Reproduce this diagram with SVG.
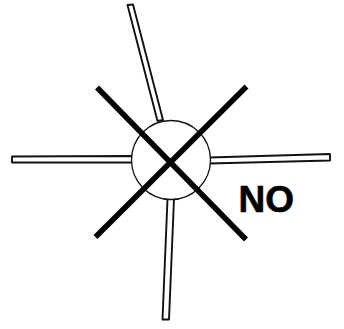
<svg xmlns="http://www.w3.org/2000/svg" width="344" height="329" viewBox="0 0 344 329">
<style>
.spoke{fill:#fff;stroke:#111;stroke-width:1.9;stroke-linejoin:round}
.cross{fill:none;stroke:#000;stroke-width:5.5}
.hub{fill:#fff;stroke:#111;stroke-width:1.3}
text{font-family:"Liberation Sans",Arial,sans-serif;font-weight:bold;font-size:37px;fill:#000;stroke:#000;stroke-width:.6}
</style>
<rect width="344" height="329" fill="#fff"/>
<g id="spokes">
<polygon id="spoke-top" class="spoke" points="127.500,5 133,4.500 163,120 157.500,121"/>
<polygon id="spoke-left" class="spoke" points="12,156.500 132,156 132,162.500 12,162.500"/>
<polygon id="spoke-right" class="spoke" points="209,157.500 330,154 330,160.500 209,163.500"/>
<polygon id="spoke-bottom" class="spoke" points="167.500,199 174,199 169,319.500 162.500,319.500"/>
</g>
<g id="hub"><circle class="hub" cx="171" cy="160" r="39.500"/></g>
<g id="cross">
<line class="cross" x1="97" y1="87.500" x2="246" y2="239.500"/>
<line class="cross" x1="246.500" y1="86.500" x2="95.500" y2="237"/>
</g>
<g id="label"><text x="238.500" y="211.500">NO</text></g>
</svg>
